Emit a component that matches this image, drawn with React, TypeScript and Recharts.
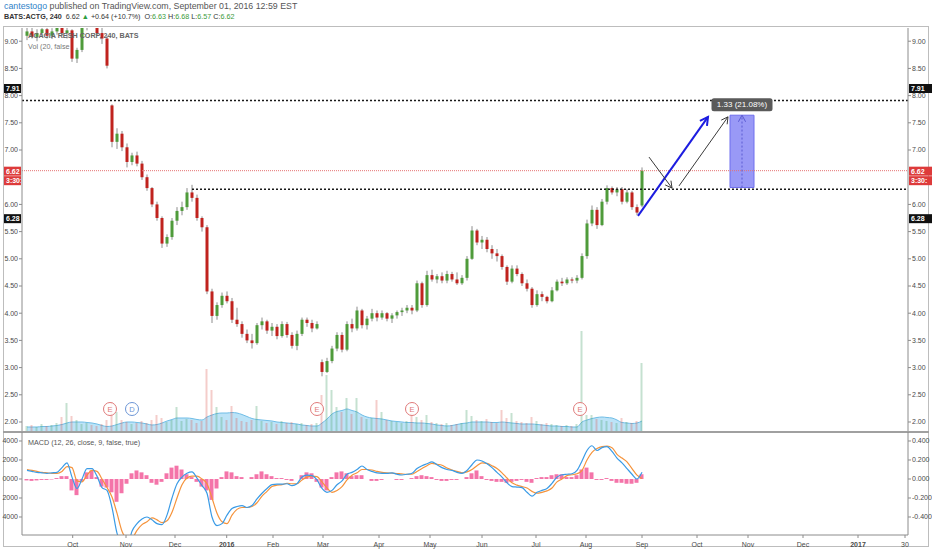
import React from "react";
import {
  Area,
  Bar,
  ComposedChart,
  Line,
  ReferenceArea,
  ReferenceDot,
  ReferenceLine,
  XAxis,
  YAxis,
} from "recharts";

// BATS:ACTG, read off the chart as 2-session candles (Sep 2015 – Sep 1, 2016)
// [open, high, low, close]
const ohlc: [number, number, number, number][] = [
  [9.1, 9.25, 9.02, 9.18], [9.18, 9.28, 9.05, 9.08], [9.08, 9.22, 9.0, 9.15], [9.15, 9.3, 9.1, 9.22],
  [9.22, 9.26, 9.05, 9.1], [9.1, 9.24, 9.04, 9.18], [9.18, 9.3, 9.12, 9.25], [9.25, 9.32, 9.1, 9.15],
  [9.15, 9.3, 9.05, 9.2], [9.2, 9.22, 8.62, 8.68], [8.68, 8.88, 8.6, 8.84], [8.84, 9.35, 8.8, 9.28],
  [9.28, 9.7, 9.2, 9.6], [9.6, 9.75, 9.4, 9.5], [9.5, 9.55, 9.1, 9.15], [9.15, 9.28, 8.95, 9.05],
  [9.05, 9.1, 8.5, 8.55], [7.82, 7.84, 7.05, 7.15], [7.15, 7.4, 7.02, 7.3], [7.3, 7.35, 6.98, 7.05],
  [7.05, 7.12, 6.68, 6.78], [6.78, 6.95, 6.72, 6.9], [6.9, 6.97, 6.7, 6.75], [6.75, 6.8, 6.45, 6.5],
  [6.5, 6.55, 6.25, 6.3], [6.3, 6.32, 5.95, 6.0], [6.0, 6.05, 5.7, 5.75], [5.75, 5.78, 5.2, 5.28],
  [5.28, 5.45, 5.22, 5.4], [5.4, 5.75, 5.35, 5.7], [5.7, 5.95, 5.62, 5.88], [5.88, 6.05, 5.8, 5.95],
  [5.95, 6.3, 5.9, 6.22], [6.22, 6.36, 6.05, 6.12], [6.12, 6.18, 5.7, 5.75], [5.75, 5.78, 5.5, 5.58],
  [5.58, 5.62, 4.35, 4.4], [4.4, 4.45, 3.82, 3.95], [3.95, 4.2, 3.88, 4.15], [4.15, 4.38, 4.1, 4.32],
  [4.32, 4.4, 4.18, 4.22], [4.22, 4.28, 3.82, 3.88], [3.88, 4.1, 3.75, 3.8], [3.8, 3.85, 3.55, 3.62],
  [3.62, 3.7, 3.45, 3.5], [3.5, 3.62, 3.35, 3.45], [3.45, 3.82, 3.42, 3.78], [3.78, 3.92, 3.7, 3.85],
  [3.85, 3.88, 3.62, 3.68], [3.68, 3.82, 3.58, 3.75], [3.75, 3.8, 3.52, 3.58], [3.58, 3.85, 3.55, 3.8],
  [3.8, 3.84, 3.55, 3.6], [3.6, 3.65, 3.35, 3.4], [3.4, 3.68, 3.32, 3.62], [3.62, 3.92, 3.58, 3.88],
  [3.88, 3.92, 3.75, 3.82], [3.82, 3.88, 3.65, 3.72], [3.72, 3.85, 3.7, 3.8], [3.1, 3.15, 2.84, 2.92],
  [2.92, 3.18, 2.9, 3.12], [3.12, 3.4, 3.08, 3.35], [3.35, 3.65, 3.3, 3.6], [3.6, 3.65, 3.28, 3.33],
  [3.33, 3.85, 3.3, 3.8], [3.8, 3.9, 3.65, 3.72], [3.72, 4.12, 3.68, 4.05], [4.05, 4.08, 3.72, 3.78],
  [3.78, 3.95, 3.7, 3.9], [3.9, 4.08, 3.85, 4.0], [4.0, 4.05, 3.85, 3.92], [3.92, 4.05, 3.88, 4.0],
  [4.0, 4.02, 3.85, 3.9], [3.9, 4.0, 3.82, 3.96], [3.96, 4.05, 3.9, 4.02], [4.02, 4.1, 3.95, 4.05],
  [4.05, 4.15, 4.0, 4.1], [4.1, 4.15, 3.98, 4.05], [4.05, 4.6, 4.02, 4.55], [4.55, 4.58, 4.1, 4.15],
  [4.15, 4.78, 4.12, 4.7], [4.7, 4.8, 4.58, 4.62], [4.62, 4.72, 4.55, 4.68], [4.68, 4.75, 4.55, 4.6],
  [4.6, 4.78, 4.55, 4.72], [4.72, 4.76, 4.58, 4.62], [4.62, 4.75, 4.52, 4.55], [4.55, 4.7, 4.52, 4.65],
  [4.65, 5.05, 4.6, 5.0], [5.0, 5.6, 4.98, 5.52], [5.52, 5.55, 5.25, 5.3], [5.3, 5.42, 5.18, 5.35],
  [5.35, 5.4, 5.12, 5.18], [5.18, 5.25, 5.0, 5.1], [5.1, 5.18, 4.95, 5.05], [5.05, 5.08, 4.8, 4.85],
  [4.85, 4.88, 4.52, 4.58], [4.58, 4.88, 4.55, 4.82], [4.82, 4.88, 4.68, 4.72], [4.72, 4.75, 4.5, 4.55],
  [4.55, 4.62, 4.4, 4.45], [4.45, 4.48, 4.1, 4.15], [4.15, 4.42, 4.12, 4.35], [4.35, 4.4, 4.22, 4.3],
  [4.3, 4.32, 4.18, 4.22], [4.22, 4.48, 4.2, 4.42], [4.42, 4.62, 4.4, 4.58], [4.58, 4.65, 4.5, 4.55],
  [4.55, 4.66, 4.52, 4.62], [4.62, 4.66, 4.55, 4.6], [4.6, 4.7, 4.55, 4.65], [4.65, 5.1, 4.62, 5.05],
  [5.05, 5.72, 5.0, 5.65], [5.65, 5.98, 5.6, 5.9], [5.9, 5.95, 5.55, 5.62], [5.62, 6.1, 5.6, 6.05],
  [6.05, 6.35, 6.0, 6.3], [6.3, 6.33, 6.18, 6.22], [6.22, 6.32, 6.15, 6.28], [6.28, 6.32, 6.0, 6.05],
  [6.05, 6.28, 6.02, 6.22], [6.22, 6.25, 5.9, 5.95], [5.95, 6.0, 5.8, 5.85], [5.98, 6.68, 5.95, 6.62],
];

// thousand shares
const volume = [
  60, 70, 50, 80, 60, 70, 90, 150, 290, 160,
  120, 80, 90, 70, 60, 80, 120, 300, 200, 120,
  100, 80, 90, 110, 90, 120, 170, 140, 100, 120,
  250, 110, 130, 120, 90, 110, 630, 420, 250, 150,
  120, 260, 140, 110, 100, 120, 260, 110, 90, 100,
  80, 110, 90, 100, 80, 90, 70, 80, 90, 370,
  570, 420, 250, 200, 340, 180, 340, 150, 130, 140,
  320, 200, 120, 110, 100, 90, 110, 190, 150, 120,
  170, 100, 90, 80, 90, 70, 80, 90, 220, 160,
  120, 110, 130, 100, 90, 220, 140, 190, 110, 100,
  90, 150, 110, 80, 90, 80, 70, 60, 70, 60,
  80, 1010, 170, 170, 130, 120, 110, 100, 90, 140,
  100, 90, 110, 690,
];

const volumeMa = [
  50, 50, 50, 55, 55, 60, 65, 75, 90, 100,
  100, 100, 95, 90, 80, 65, 55, 60, 75, 90,
  100, 100, 95, 90, 80, 70, 75, 90, 110, 125,
  140, 140, 140, 135, 125, 120, 150, 170, 185, 190,
  190, 195, 190, 175, 155, 135, 125, 120, 115, 110,
  100, 95, 90, 85, 80, 70, 65, 60, 60, 90,
  130, 180, 205, 215, 230, 215, 200, 170, 150, 140,
  135, 130, 120, 110, 105, 100, 95, 95, 90, 90,
  85, 80, 70, 65, 60, 65, 75, 85, 90, 100,
  100, 100, 100, 95, 95, 100, 95, 90, 85, 80,
  80, 80, 75, 70, 65, 60, 60, 55, 55, 50,
  50, 100, 120, 135, 145, 150, 145, 140, 120, 95,
  90, 85, 90, 110,
];

const macdLine = [
  0.09, 0.08, 0.07, 0.065, 0.06, 0.065, 0.07, 0.12, 0.17, 0.02,
  -0.1, 0.0, 0.11, 0.11, 0.03, -0.09, -0.12, -0.3, -0.57, -0.68,
  -0.72, -0.55, -0.47, -0.42, -0.4, -0.43, -0.47, -0.48, -0.38, -0.2,
  -0.05, 0.02, 0.06, 0.075, 0.01, -0.07, -0.15, -0.4, -0.49, -0.47,
  -0.38, -0.31, -0.29, -0.28, -0.3, -0.28, -0.21, -0.15, -0.1, -0.06,
  -0.055, -0.055, -0.05, -0.07, -0.05, 0.02, 0.04, 0.035, -0.01, -0.1,
  -0.14, -0.12, -0.06, -0.02, 0.05, 0.07, 0.1, 0.137, 0.1, 0.08,
  0.065, 0.06, 0.06, 0.065, 0.05, 0.042, 0.05, 0.06, 0.11, 0.14,
  0.16, 0.18, 0.15, 0.12, 0.1, 0.09, 0.07, 0.06, 0.09, 0.15,
  0.2, 0.19, 0.16, 0.12, 0.07, 0.02, -0.04, -0.08, -0.085, -0.09,
  -0.14, -0.18, -0.14, -0.12, -0.1, -0.046, 0.02, 0.045, 0.05, 0.055,
  0.09, 0.19, 0.3, 0.35, 0.3, 0.33, 0.34, 0.29, 0.22, 0.17,
  0.11, 0.05, 0.0, 0.07,
];

const signalLine = [
  0.1, 0.09, 0.08, 0.07, 0.065, 0.06, 0.06, 0.08, 0.13, 0.12,
  -0.02, -0.03, 0.04, 0.09, 0.08, 0.0, -0.09, -0.19, -0.36, -0.55,
  -0.62, -0.62, -0.54, -0.48, -0.45, -0.41, -0.43, -0.46, -0.44, -0.35,
  -0.2, -0.06, 0.01, 0.03, 0.03, 0.0, -0.05, -0.2, -0.36, -0.45,
  -0.47, -0.38, -0.32, -0.3, -0.3, -0.29, -0.25, -0.18, -0.13, -0.08,
  -0.065, -0.06, -0.045, -0.05, -0.05, -0.01, 0.02, 0.03, 0.025, -0.03,
  -0.095, -0.14, -0.12, -0.08, -0.01, 0.04, 0.065, 0.1, 0.1, 0.095,
  0.08, 0.07, 0.065, 0.062, 0.058, 0.053, 0.05, 0.05, 0.08, 0.11,
  0.14, 0.165, 0.155, 0.145, 0.115, 0.095, 0.08, 0.066, 0.075, 0.1,
  0.14, 0.17, 0.165, 0.14, 0.11, 0.065, 0.01, -0.04, -0.065, -0.08,
  -0.095, -0.13, -0.15, -0.14, -0.125, -0.095, -0.03, 0.0, 0.035, 0.045,
  0.055, 0.09, 0.2, 0.28, 0.32, 0.34, 0.345, 0.33, 0.26, 0.22,
  0.18, 0.11, 0.04, 0.005,
];

const histogram = [
  -0.015, -0.02, -0.015, -0.01, -0.01, -0.005, 0.01, 0.03, 0.03, -0.12,
  -0.17, -0.02, 0.07, 0.09, 0.02, -0.08, -0.09, -0.14, -0.24, -0.15,
  -0.05, 0.06, 0.09, 0.07, 0.04, -0.04, -0.06, -0.03, 0.06, 0.12,
  0.14, 0.1, 0.05, 0.02, -0.03, -0.08, -0.12, -0.22, -0.1, 0.02,
  0.08, 0.07, 0.03, 0.02, 0.0, 0.02, 0.05, 0.08, 0.05, 0.03,
  0.01, 0.01, -0.01, -0.02, 0.0, 0.04, 0.07, 0.06, -0.03, -0.09,
  -0.12, 0.02, 0.07, 0.08, 0.06, 0.03, 0.04, 0.04, 0.0, -0.02,
  -0.02, -0.01, 0.0, 0.0, -0.01, -0.01, 0.0, 0.01, 0.03, 0.04,
  0.03, 0.02, -0.01, -0.02, -0.02, -0.01, -0.01, 0.0, 0.02, 0.06,
  0.09, 0.03, -0.01, -0.02, -0.03, -0.03, -0.04, -0.03, -0.02, -0.01,
  -0.03, -0.04, 0.01, 0.02, 0.02, 0.04, 0.05, 0.05, 0.02, 0.02,
  0.04, 0.1, 0.12, 0.07, -0.01, -0.01, 0.01, -0.02, -0.04, -0.04,
  -0.05, -0.05, -0.04, 0.05,
];

// time axis in candle units
const X_DOMAIN: [number, number] = [0, 177.2];
const monthTicks = [10.14, 20.8, 30.6, 40.94, 50.2, 60.2, 71.4, 81.6, 92, 102.8, 112.8, 124, 135, 145.2, 156.2, 167.2, 176.6];
const monthLabels = ["Oct", "Nov", "Dec", "2016", "Feb", "Mar", "Apr", "May", "Jun", "Jul", "Aug", "Sep", "Oct", "Nov", "Dec", "2017", "30"];
// 6.50 sits under the last-price tags in the original, so it is left out
const priceTicks = [2, 2.5, 3, 3.5, 4, 4.5, 5, 5.5, 6, 7, 7.5, 8, 8.5, 9];
const macdTicks = [-0.4, -0.2, 0, 0.2, 0.4];

const keyLevels = [7.91, 6.28];
const levelStart = 34; // candle where the 6.28 line begins
const lastPrice = 6.62;
const countdown = "3:30:";
const rangeBox = { k1: 141.6, k2: 146.4, low: 6.31, high: 7.64 };
const arrows = [
  { from: [123.2, 5.79], to: [137.2, 7.61], color: "#1c1ce0", width: 2 },
  { from: [125.4, 6.87], to: [130.0, 6.3], color: "#3a3a3a", width: 1 },
  { from: [131.4, 6.34], to: [141.2, 7.61], color: "#3a3a3a", width: 1 },
];
const events = [
  { k: 17.6, type: "E" },
  { k: 22, type: "D" },
  { k: 59, type: "E" },
  { k: 78, type: "E" },
  { k: 111.6, type: "E" },
];

const UP = "#4f9b3b";
const DOWN = "#c0231e";
const WICK = "#8c8c8c";
const AXIS = "#8c8c8c";
const TXT = "#4a4a4a";
const RED_TAG = "#dd3b3b";
const FONT = '"Liberation Sans", Arial, sans-serif';

const rows = ohlc.map((c, i) => ({
  k: i + 1,
  open: c[0],
  high: c[1],
  low: c[2],
  close: c[3],
  range: [c[2], c[1]],
  volume: volume[i],
  volMa: volumeMa[i],
}));

const macdRows = macdLine.map((m, i) => ({
  k: i + 1,
  macd: m,
  signal: signalLine[i],
  hist: histogram[i],
}));

function Candle(props: any) {
  const { x, y, width, height, payload } = props;
  if (x == null || y == null || !payload) return null;
  const { open, high, low, close } = payload;
  const top = Math.min(y, y + height);
  const span = Math.abs(height);
  const toY = (v: number) => (high === low ? top : top + ((high - v) / (high - low)) * span);
  const bodyTop = toY(Math.max(open, close));
  const bodyBot = toY(Math.min(open, close));
  const cx = x + width / 2;
  return (
    <g>
      <line x1={cx} x2={cx} y1={top} y2={top + span} stroke={WICK} strokeWidth={1} />
      <rect x={x} y={bodyTop} width={width} height={Math.max(1, bodyBot - bodyTop)} fill={close >= open ? UP : DOWN} />
    </g>
  );
}

function VolumeBar(props: any) {
  const { x, y, width, height, payload } = props;
  if (x == null || y == null || !payload) return null;
  const up = payload.close >= payload.open;
  return (
    <rect
      x={x}
      y={Math.min(y, y + height)}
      width={width}
      height={Math.abs(height)}
      fill={up ? "rgba(90,170,120,0.35)" : "rgba(220,90,80,0.3)"}
    />
  );
}

function AxisTag({ x, y, w, text, bg }: { x: number; y: number; w: number; text: string; bg: string }) {
  return (
    <g>
      <rect x={x} y={y - 4.5} width={w} height={9} fill={bg} />
      <text x={x + 2} y={y} dy="0.35em" fontSize={7} fontWeight={700} fill="#fff">
        {text}
      </text>
    </g>
  );
}

const levelShape =
  (line: { stroke: string; dash: string; width: number } | null, tags: { text: string; bg: string; dy: number }[]) =>
  (p: any) => (
    <g>
      {line && (
        <line
          x1={p.x1}
          y1={p.y1}
          x2={p.x2}
          y2={p.y2}
          stroke={line.stroke}
          strokeWidth={line.width}
          strokeDasharray={line.dash}
        />
      )}
      {tags.map((t, i) => (
        <g key={i}>
          <AxisTag x={p.x1 - 18} y={p.y1 + t.dy} w={17} text={t.text} bg={t.bg} />
          <AxisTag x={p.x2 + 1} y={p.y1 + t.dy} w={23} text={t.text} bg={t.bg} />
        </g>
      ))}
    </g>
  );

const arrowShape = (color: string, width: number, dash?: string) => (p: any) => {
  const { x1, y1, x2, y2 } = p;
  const a = Math.atan2(y2 - y1, x2 - x1);
  const len = 6 + width * 1.5;
  const head = (s: number) => `${x2 - len * Math.cos(a + s)},${y2 - len * Math.sin(a + s)}`;
  return (
    <g>
      <line x1={x1} y1={y1} x2={x2} y2={y2} stroke={color} strokeWidth={width} strokeDasharray={dash} />
      <polyline points={`${head(-0.5)} ${x2},${y2} ${head(0.5)}`} fill="none" stroke={color} strokeWidth={width} />
    </g>
  );
};

const eventShape = (type: string) => (p: any) => {
  const color = type === "D" ? "#6d96d6" : "#e07a7a";
  return (
    <g>
      <circle cx={p.cx} cy={p.cy} r={6.5} fill="rgba(255,255,255,0.85)" stroke={color} strokeWidth={1} />
      <text x={p.cx} y={p.cy} dy="0.35em" textAnchor="middle" fontSize={7.5} fill={color}>
        {type}
      </text>
    </g>
  );
};

function RangeLabel(p: any) {
  const diff = rangeBox.high - rangeBox.low;
  const pct = (diff / rangeBox.low) * 100;
  const text = `${diff.toFixed(2)} (${pct.toFixed(2)}%)`;
  const w = 61;
  return (
    <g>
      <rect x={p.cx - w / 2} y={p.cy - 17} width={w} height={13} rx={2.5} fill="#5a5a5a" />
      <text x={p.cx} y={p.cy - 10.5} dy="0.35em" textAnchor="middle" fontSize={8} fill="#fff">
        {text}
      </text>
    </g>
  );
}

function MonthTick(props: any) {
  const { x, y, payload } = props;
  const label = monthLabels[monthTicks.indexOf(payload.value)] ?? "";
  const bold = /^\d{4}$/.test(label);
  return (
    <text x={x} y={y} dy={6.5} textAnchor="middle" fontSize={7} fill={TXT} fontWeight={bold ? 700 : 400}>
      {label}
    </text>
  );
}

const axisTick = { fontSize: 7, fill: TXT };

export default function App() {
  return (
    <div
      style={{
        position: "absolute",
        left: 0,
        top: 0,
        width: 932,
        height: 550,
        background: "#fff",
        fontFamily: FONT,
        overflow: "hidden",
      }}
    >
      <div style={{ position: "absolute", left: 4, top: 1, fontSize: 8.8, lineHeight: "11px", color: "#555", whiteSpace: "nowrap" }}>
        <span style={{ color: "#2f82c8" }}>cantestogo</span> published on TradingView.com, September 01, 2016 12:59 EST
      </div>
      <div style={{ position: "absolute", left: 4, top: 12, fontSize: 7.2, lineHeight: "10px", color: "#333", whiteSpace: "nowrap" }}>
        <b>BATS:ACTG, 240</b>&nbsp; 6.62 <span style={{ color: "#2e9e3e" }}>▲</span> +0.64 (+10.7%)&nbsp; O:
        <span style={{ color: "#3a9a3a" }}>6.63</span> H:<span style={{ color: "#3a9a3a" }}>6.68</span> L:
        <span style={{ color: "#3a9a3a" }}>6.57</span> C:<span style={{ color: "#3a9a3a" }}>6.62</span>
      </div>

      <div
        style={{
          position: "absolute",
          left: 3,
          top: 26,
          width: 926,
          height: 521,
          border: "1px solid #bdbdbd",
          boxSizing: "border-box",
        }}
      />

      <div style={{ position: "absolute", left: 0, top: 0 }}>
        <ComposedChart width={932} height={432} data={rows} margin={{ top: 28, right: 0, bottom: 0, left: 0 }}>
          <XAxis xAxisId="x" type="number" dataKey="k" domain={X_DOMAIN} allowDataOverflow hide />
          <XAxis xAxisId="xv" type="number" dataKey="k" domain={X_DOMAIN} allowDataOverflow hide />
          <YAxis
            yAxisId="p"
            orientation="left"
            width={22}
            type="number"
            domain={[1.816, 9.243]}
            allowDataOverflow
            ticks={priceTicks}
            interval={0}
            tickFormatter={(v: number) => v.toFixed(2)}
            tick={axisTick}
            tickSize={3}
            tickMargin={1}
            axisLine={{ stroke: AXIS }}
            tickLine={{ stroke: AXIS }}
          />
          <YAxis
            yAxisId="pr"
            orientation="right"
            width={24}
            type="number"
            domain={[1.816, 9.243]}
            allowDataOverflow
            ticks={priceTicks}
            interval={0}
            tickFormatter={(v: number) => v.toFixed(2)}
            tick={axisTick}
            tickSize={3}
            tickMargin={1}
            axisLine={{ stroke: AXIS }}
            tickLine={{ stroke: AXIS }}
          />
          <YAxis yAxisId="v" type="number" domain={[0, 4040]} allowDataOverflow hide />

          <Area
            xAxisId="xv"
            yAxisId="v"
            dataKey="volMa"
            type="monotone"
            fill="#8fd0f2"
            fillOpacity={0.6}
            stroke="#6fbde6"
            strokeWidth={1}
            isAnimationActive={false}
          />
          <Bar xAxisId="xv" yAxisId="v" dataKey="volume" barSize={2} shape={VolumeBar} isAnimationActive={false} />
          {events.map((e, i) => (
            <ReferenceDot key={i} xAxisId="xv" yAxisId="v" x={e.k} y={230} shape={eventShape(e.type)} />
          ))}

          <ReferenceLine
            xAxisId="x"
            yAxisId="p"
            y={lastPrice}
            shape={levelShape({ stroke: "#e57373", dash: "1 1", width: 1 }, [
              { text: lastPrice.toFixed(2), bg: RED_TAG, dy: 0.5 },
              { text: countdown, bg: RED_TAG, dy: 10 },
            ])}
          />
          <ReferenceLine
            xAxisId="x"
            yAxisId="p"
            y={keyLevels[0]}
            shape={levelShape({ stroke: "#1a1a1a", dash: "2 2", width: 1.5 }, [
              { text: keyLevels[0].toFixed(2), bg: "#111", dy: -12 },
            ])}
          />
          <ReferenceLine
            xAxisId="x"
            yAxisId="p"
            segment={[
              { x: levelStart, y: keyLevels[1] },
              { x: X_DOMAIN[1], y: keyLevels[1] },
            ]}
            stroke="#1a1a1a"
            strokeWidth={1.5}
            strokeDasharray="2 2"
          />
          <ReferenceLine
            xAxisId="x"
            yAxisId="p"
            y={keyLevels[1]}
            shape={levelShape(null, [{ text: keyLevels[1].toFixed(2), bg: "#111", dy: 29.5 }])}
          />

          <Bar xAxisId="x" yAxisId="p" dataKey="range" barSize={3} shape={Candle} isAnimationActive={false} />

          <ReferenceArea
            xAxisId="x"
            yAxisId="p"
            x1={rangeBox.k1}
            x2={rangeBox.k2}
            y1={rangeBox.low}
            y2={rangeBox.high}
            fill="#8787f4"
            fillOpacity={0.85}
            stroke="#6e6eee"
            strokeWidth={1}
          />
          <ReferenceLine
            xAxisId="x"
            yAxisId="p"
            segment={[
              { x: (rangeBox.k1 + rangeBox.k2) / 2, y: rangeBox.low },
              { x: (rangeBox.k1 + rangeBox.k2) / 2, y: rangeBox.high },
            ]}
            shape={arrowShape("#5a5ad2", 1, "2 2")}
          />
          <ReferenceDot
            xAxisId="x"
            yAxisId="p"
            x={(rangeBox.k1 + rangeBox.k2) / 2}
            y={rangeBox.high}
            shape={RangeLabel}
          />
          {arrows.map((a, i) => (
            <ReferenceLine
              key={i}
              xAxisId="x"
              yAxisId="p"
              segment={[
                { x: a.from[0], y: a.from[1] },
                { x: a.to[0], y: a.to[1] },
              ]}
              shape={arrowShape(a.color, a.width)}
            />
          ))}
        </ComposedChart>
      </div>

      <div style={{ position: "absolute", left: 3, top: 431, width: 926, height: 2, background: "#a0a0a0" }} />

      <div style={{ position: "absolute", left: 0, top: 432 }}>
        <ComposedChart width={932} height={118} data={macdRows} margin={{ top: 0, right: 0, bottom: 0, left: 0 }}>
          <XAxis
            type="number"
            dataKey="k"
            domain={X_DOMAIN}
            allowDataOverflow
            ticks={monthTicks}
            interval={0}
            tick={<MonthTick />}
            tickSize={3}
            height={15}
            axisLine={{ stroke: AXIS }}
            tickLine={{ stroke: AXIS }}
          />
          <YAxis
            yAxisId="m"
            orientation="left"
            width={22}
            type="number"
            domain={[-0.5895, 0.4947]}
            allowDataOverflow
            ticks={macdTicks}
            interval={0}
            tickFormatter={(v: number) => Math.abs(v).toFixed(4).slice(-4)}
            tick={axisTick}
            tickSize={3}
            tickMargin={1}
            axisLine={{ stroke: AXIS }}
            tickLine={{ stroke: AXIS }}
          />
          <YAxis
            yAxisId="mr"
            orientation="right"
            width={24}
            type="number"
            domain={[-0.5895, 0.4947]}
            allowDataOverflow
            ticks={macdTicks}
            interval={0}
            tickFormatter={(v: number) => v.toFixed(3)}
            tick={axisTick}
            tickSize={3}
            tickMargin={1}
            axisLine={{ stroke: AXIS }}
            tickLine={{ stroke: AXIS }}
          />
          <Bar yAxisId="m" dataKey="hist" barSize={4} fill="#f474a9" isAnimationActive={false} />
          <Line
            yAxisId="m"
            dataKey="signal"
            type="monotone"
            stroke="#f5933b"
            strokeWidth={1.2}
            dot={false}
            isAnimationActive={false}
          />
          <Line
            yAxisId="m"
            dataKey="macd"
            type="monotone"
            stroke="#3a9be6"
            strokeWidth={1.2}
            dot={false}
            isAnimationActive={false}
          />
        </ComposedChart>
      </div>

      <div style={{ position: "absolute", left: 28, top: 31, fontSize: 7.2, lineHeight: "10px", color: "#666", fontWeight: 600, whiteSpace: "nowrap" }}>
        ACACIA RESH CORP, 240, BATS
      </div>
      <div style={{ position: "absolute", left: 28, top: 42, fontSize: 7.2, lineHeight: "10px", color: "#777", whiteSpace: "nowrap" }}>
        Vol (20, false
      </div>
      <div style={{ position: "absolute", left: 28, top: 438, fontSize: 7.2, lineHeight: "10px", color: "#555", whiteSpace: "nowrap" }}>
        MACD (12, 26, close, 9, false, true)
      </div>
    </div>
  );
}
